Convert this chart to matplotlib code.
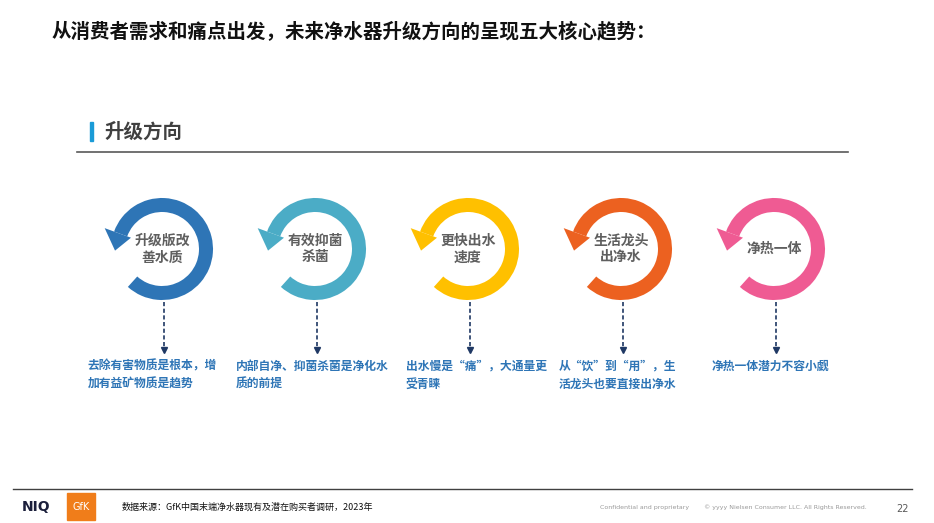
import numpy as np
import matplotlib.pyplot as plt
from matplotlib.patches import Wedge, Polygon, Rectangle

plt.rcParams['font.family'] = ['Noto Sans CJK SC', 'DejaVu Sans']

title = "从消费者需求和痛点出发，未来净水器升级方向的呈现五大核心趋势："
section = "升级方向"
labels = ["升级版改\n善水质", "有效抑菌\n杀菌", "更快出水\n速度", "生活龙头\n出净水", "净热一体"]
descs = [
    "去除有害物质是根本，增\n加有益矿物质是趋势",
    "内部自净、抑菌杀菌是净化水\n质的前提",
    "出水慢是“痛”，大通量更\n受青睐",
    "从“饮”到“用”，生\n活龙头也要直接出净水",
    "净热一体潜力不容小觑",
]
ring_colors = ["#2e75b6", "#4bacc6", "#ffc000", "#ec6120", "#ef5b93"]
source = "数据来源：GfK中国末端净水器现有及潜在购买者调研，2023年"
page_no = "22"

fig = plt.figure(figsize=(9.34, 5.23), dpi=100)
ax = fig.add_axes([0, 0, 1, 1])
ax.set_xlim(0, 934)
ax.set_ylim(523, 0)
ax.axis('off')


def pt(cx, cy, r, ang):
    a = np.radians(ang)
    return cx + r * np.cos(a), cy - r * np.sin(a)


# title
ax.text(52, 32, title, fontsize=14, fontweight='bold', color='#111111', va='center', ha='left')

# section header
ax.add_patch(Rectangle((90, 122), 3, 19, color='#1a9bd7'))
ax.text(104, 132, section, fontsize=14, fontweight='bold', color='#404040', va='center', ha='left')
ax.plot([77, 848], [152, 152], color='#595959', lw=1.2)

# rings
r_out, width = 51, 14
r_in = r_out - width
cy = 249
x0, step = 162, 153
desc_x = [88, 236, 406, 559, 712]
for i, (lab, desc, col) in enumerate(zip(labels, descs, ring_colors)):
    cx = x0 + i * step
    # visual span from -132 deg up to 160 deg (counterclockwise)
    ax.add_patch(Wedge((cx, cy), r_out, -160, 132, width=width, color=col, lw=0))
    b1 = pt(cx, cy, r_in - 4, 160)
    b2 = pt(cx, cy, r_out + 10, 160)
    tip = pt(cx, cy, (r_in + r_out) / 2 + 3, 182)
    ax.add_patch(Polygon([b1, b2, tip], closed=True, color=col, lw=0))
    ax.text(cx, cy, lab, fontsize=10, fontweight='bold', color='#5f5f5f',
            ha='center', va='center', linespacing=1.25)
    # dashed connector
    ax.plot([cx + 2, cx + 2], [302, 348], color='#1f3864', lw=1.2, ls=(0, (2.5, 1.5)))
    ax.plot([cx + 2], [350], marker='v', color='#1f3864', markersize=4.5)
    ax.text(desc_x[i], 360, desc, fontsize=8.5, fontweight='bold', color='#2e75b6',
            ha='left', va='top', linespacing=1.45)

# footer
ax.plot([13, 912], [489, 489], color='#404040', lw=1)
ax.text(22, 507, "NIQ", fontsize=10, fontweight='bold', color='#1b1f3b',
        family='DejaVu Sans', ha='left', va='center')
ax.add_patch(Rectangle((67, 493), 28, 27, color='#f07d1a'))
ax.text(81, 507, "GfK", fontsize=7, color='white', ha='center', va='center', family='DejaVu Sans')
ax.text(122, 507, source, fontsize=6.5, color='#111111', ha='left', va='center')
ax.text(600, 507, "Confidential and proprietary", fontsize=4.5, color='#999999',
        ha='left', va='center', family='DejaVu Sans')
ax.text(704, 507, "© yyyy Nielsen Consumer LLC. All Rights Reserved.", fontsize=4.5,
        color='#999999', ha='left', va='center', family='DejaVu Sans')
ax.text(896, 509, page_no, fontsize=7, color='#595959', ha='left', va='center', family='DejaVu Sans')

fig.savefig('out.png', dpi=100)
